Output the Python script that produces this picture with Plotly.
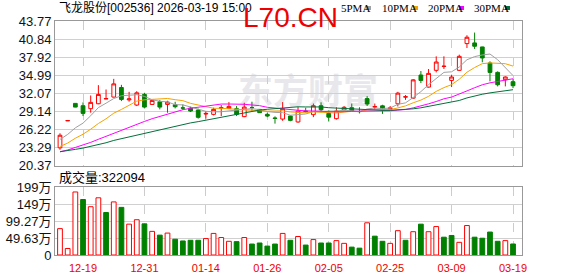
import plotly.graph_objects as go
import pandas as pd

# ---------------- data ----------------
dates = ["12-16", "12-17", "12-18", "12-19", "12-22", "12-23", "12-24", "12-25", "12-26", "12-29",
         "12-30", "12-31", "01-05", "01-06", "01-07", "01-08", "01-09", "01-12", "01-13", "01-14",
         "01-15", "01-16", "01-19", "01-20", "01-21", "01-22", "01-23", "01-26", "01-27", "01-28",
         "01-29", "01-30", "02-02", "02-03", "02-04", "02-05", "02-06", "02-09", "02-10", "02-11",
         "02-12", "02-13", "02-24", "02-25", "02-26", "02-27", "03-02", "03-03", "03-04", "03-05",
         "03-06", "03-09", "03-10", "03-11", "03-12", "03-13", "03-16", "03-17", "03-18", "03-19"]

opens = [23.23, 27.62, 30.43, 30.05, 29.57, 30.37, 31.15, 31.45, 33.00, 31.00,
         30.16, 31.88, 30.26, 30.69, 30.26, 30.21, 29.70, 29.67, 29.35, 28.70,
         28.65, 29.60, 29.62, 29.57, 28.28, 29.76, 29.46, 28.65, 28.06, 27.89,
         28.38, 27.42, 29.20, 28.60, 30.05, 28.80, 27.95, 29.36, 29.73, 29.12,
         31.20, 29.85, 30.03, 29.50, 30.36, 31.45, 31.28, 35.02, 33.07, 35.78,
         36.40, 34.15, 35.78, 40.11, 40.22, 39.57, 36.97, 35.45, 34.26, 33.94]
highs = [25.59, 27.66, 30.45, 30.59, 31.71, 33.38, 32.68, 34.40, 33.43, 32.30,
         32.41, 32.14, 30.95, 30.96, 30.86, 30.69, 30.26, 29.89, 29.57, 29.19,
         29.73, 30.16, 30.64, 30.00, 30.53, 30.70, 29.50, 28.92, 28.33, 30.64,
         28.49, 29.84, 29.73, 30.40, 30.60, 29.30, 29.80, 30.00, 30.40, 29.80,
         31.60, 30.40, 30.20, 30.00, 32.30, 31.77, 34.35, 35.67, 35.99, 38.05,
         38.05, 35.07, 38.32, 41.46, 41.90, 39.60, 37.24, 35.61, 34.80, 34.37]
lows = [22.91, 27.60, 29.80, 28.38, 28.92, 30.30, 31.15, 31.40, 30.80, 30.70,
        29.99, 29.62, 30.20, 29.46, 28.92, 29.62, 29.35, 29.03, 27.96, 27.96,
        28.49, 28.38, 29.50, 28.38, 28.20, 29.19, 28.90, 28.20, 27.15, 27.60,
        27.53, 27.30, 28.95, 28.20, 29.00, 27.50, 27.80, 29.30, 29.20, 28.80,
        30.00, 29.35, 28.73, 29.40, 29.93, 31.00, 31.20, 33.72, 33.00, 35.45,
        36.00, 33.07, 35.70, 39.40, 39.24, 37.08, 33.99, 33.18, 33.18, 32.90]
closes = [25.27, 27.64, 29.83, 28.81, 30.59, 31.88, 31.20, 33.59, 31.07, 31.15,
          32.14, 29.83, 30.91, 29.83, 30.64, 29.89, 29.67, 29.19, 28.17, 28.80,
          29.46, 29.73, 29.94, 28.65, 29.83, 29.74, 28.92, 28.38, 28.00, 29.57,
          27.68, 29.19, 29.10, 30.05, 29.40, 28.20, 29.20, 29.79, 29.25, 29.10,
          30.33, 29.90, 29.38, 29.70, 32.09, 31.50, 34.24, 34.15, 35.29, 37.13,
          36.45, 34.70, 38.05, 41.14, 39.68, 37.78, 35.45, 33.45, 34.70, 33.29]
# volume in 万 (10k shares)
volumes = [77, 19, 184, 162, 141, 167, 124, 155, 139, 90,
           103, 91, 69, 58, 64, 46, 41, 43, 43, 48,
           63, 51, 40, 39, 51, 32, 35, 26, 32, 63,
           43, 54, 29, 45, 35, 35, 42, 34, 23, 20,
           94, 55, 40, 34, 71, 43, 68, 90, 68, 83,
           52, 57, 37, 86, 52, 49, 67, 40, 42, 32.2094]
# closes of the sessions before the window (estimated from where the MA lines start)
earlier_closes = [23.1, 22.9, 22.5, 22.8, 22.4, 22.6, 22.3, 22.5, 22.7, 22.2,
                  21.9, 21.6, 21.4, 21.7, 21.9, 21.5, 21.8, 22.0, 21.7, 22.0,
                  22.1, 22.0, 22.3, 22.5, 22.6, 23.6, 24.5, 25.0, 24.6]

price_ticks = [20.37, 23.29, 26.22, 29.14, 32.07, 34.99, 37.92, 40.84, 43.77]
price_tick_text = ["20.37", "23.29", "26.22", "29.14", "32.07", "34.99", "37.92", "40.84", "43.77"]
vol_ticks = [0, 49.635, 99.27, 148.905, 198.54]
vol_tick_text = ["0", "49.63万", "99.27万", "149万", "199万"]
x_tick_dates = ["12-19", "12-31", "01-14", "01-26", "02-05", "02-25", "03-09", "03-19"]

ma_periods = [5, 10, 20, 30]
ma_names = ["5PMA", "10PMA", "20PMA", "30PMA"]
ma_colors = ["#a0a0a0", "#f5a200", "#ff00ff", "#00703a"]

title_text = "飞龙股份[002536] 2026-03-19 15:00"
vol_label = "成交量:322094"

RED = "#ff0000"
GREEN = "#008000"

# ---------------- figure ----------------
W, H = 578, 276
ML, MR, MT, MB = 55, 56, 21, 21
PH = H - MT - MB  # 234


def py(p):  # page y -> paper y
    return (H - MB - p) / PH


def px(p):  # page x -> paper x
    return (p - ML) / (W - ML - MR)


fig = go.Figure()

fig.add_trace(go.Candlestick(
    x=dates, open=opens, high=highs, low=lows, close=closes,
    increasing=dict(line=dict(color=RED, width=1), fillcolor="white"),
    decreasing=dict(line=dict(color=GREEN, width=1), fillcolor=GREEN),
    whiskerwidth=0, showlegend=False, xaxis="x", yaxis="y", name="K",
))

all_closes = pd.Series(earlier_closes + closes)
n_before = len(earlier_closes)
for per, name, col in zip(ma_periods, ma_names, ma_colors):
    ma = all_closes.rolling(per).mean().iloc[n_before:].tolist()
    fig.add_trace(go.Scatter(x=dates, y=ma, mode="lines", name=name,
                             line=dict(color=col, width=1), showlegend=False,
                             xaxis="x", yaxis="y", hoverinfo="skip"))

prev = [earlier_closes[-1]] + closes[:-1]
vol_up = [c >= p for c, p in zip(closes, prev)]
fig.add_trace(go.Bar(
    x=dates, y=volumes, width=0.62,
    marker=dict(color=["white" if u else GREEN for u in vol_up],
                line=dict(color=[RED if u else GREEN for u in vol_up], width=1)),
    showlegend=False, xaxis="x2", yaxis="y2", name="成交量",
))

axis_common = dict(showline=True, linecolor="#999999", linewidth=1, mirror=True,
                   zeroline=False, ticks="", automargin=False)
fig.update_layout(
    width=W, height=H, margin=dict(l=ML, r=MR, t=MT, b=MB),
    paper_bgcolor="white", plot_bgcolor="white",
    font=dict(family="Liberation Sans, Arial, Noto Sans CJK SC", size=13, color="#000"),
    showlegend=False, bargap=0.3,
    xaxis=dict(type="category", domain=[0, 1], anchor="y", range=[-0.65, 60.17],
               tickvals=x_tick_dates, showticklabels=False, showgrid=True,
               gridcolor="#cccccc", griddash="dash", gridwidth=1,
               rangeslider=dict(visible=False), **axis_common),
    yaxis=dict(domain=[py(165.5), 1], anchor="x", range=[price_ticks[0], price_ticks[-1]],
               tickvals=price_ticks, ticktext=price_tick_text, showgrid=True,
               gridcolor="#d0d0d0", gridwidth=1, tickfont=dict(size=13, color="#111"),
               **axis_common),
    xaxis2=dict(type="category", domain=[0, 1], anchor="y2", range=[-0.65, 60.17],
                tickvals=x_tick_dates, ticktext=x_tick_dates, showgrid=True,
                gridcolor="#cccccc", griddash="dash", gridwidth=1, ticklabelstandoff=3,
                tickfont=dict(size=11, color="#ee0000", family="Liberation Sans, Arial"),
                **axis_common),
    yaxis2=dict(domain=[0, py(187)], anchor="x2", range=[0, vol_ticks[-1]],
                tickvals=vol_ticks, ticktext=vol_tick_text, showgrid=True,
                gridcolor="#d0d0d0", gridwidth=1, tickfont=dict(size=13, color="#111"),
                **axis_common),
)

shapes = []
# faint watermark, drawn beneath the candles
shapes.append(dict(type="rect", xref="paper", yref="paper", x0=px(236), x1=px(380),
                   y0=py(110), y1=py(78), layer="below", line=dict(width=0),
                   fillcolor="rgba(0,0,0,0)",
                   label=dict(text="东方财富", textposition="middle center",
                              font=dict(size=35, color="#e8e8ec", family="Noto Sans CJK SC",
                                        weight="bold"))))

annos = []
# title
annos.append(dict(text=title_text, x=px(57), y=py(8), xref="paper", yref="paper",
                  xanchor="left", yanchor="middle", showarrow=False,
                  font=dict(size=12, color="#000", family="Liberation Sans, Noto Sans CJK SC")))
# red site mark
annos.append(dict(text="L70.CN", x=px(290), y=py(17), xref="paper", yref="paper",
                  xanchor="center", yanchor="middle", showarrow=False,
                  font=dict(size=28, color="#ee0000", family="Liberation Sans, Arial")))
# MA legend
leg_x = [339, 380, 426, 472]
mark_x = [366, 413, 459, 505]
for nm, col, lx, mx in zip(ma_names, ma_colors, leg_x, mark_x):
    annos.append(dict(text=nm, x=px(lx), y=py(8), xref="paper", yref="paper",
                      xanchor="left", yanchor="middle", showarrow=False,
                      font=dict(size=11, color="#000", family="Liberation Serif, Times New Roman")))
    shapes.append(dict(type="rect", xref="paper", yref="paper", x0=px(mx), x1=px(mx + 5),
                       y0=py(10), y1=py(6), fillcolor=col, line=dict(width=0)))
# volume label
annos.append(dict(text=vol_label, x=px(57), y=py(177), xref="paper", yref="paper",
                  xanchor="left", yanchor="middle", showarrow=False,
                  font=dict(size=13, color="#000", family="Liberation Sans, Noto Sans CJK SC")))
fig.update_layout(annotations=annos, shapes=shapes)

fig.write_html("out.html")
